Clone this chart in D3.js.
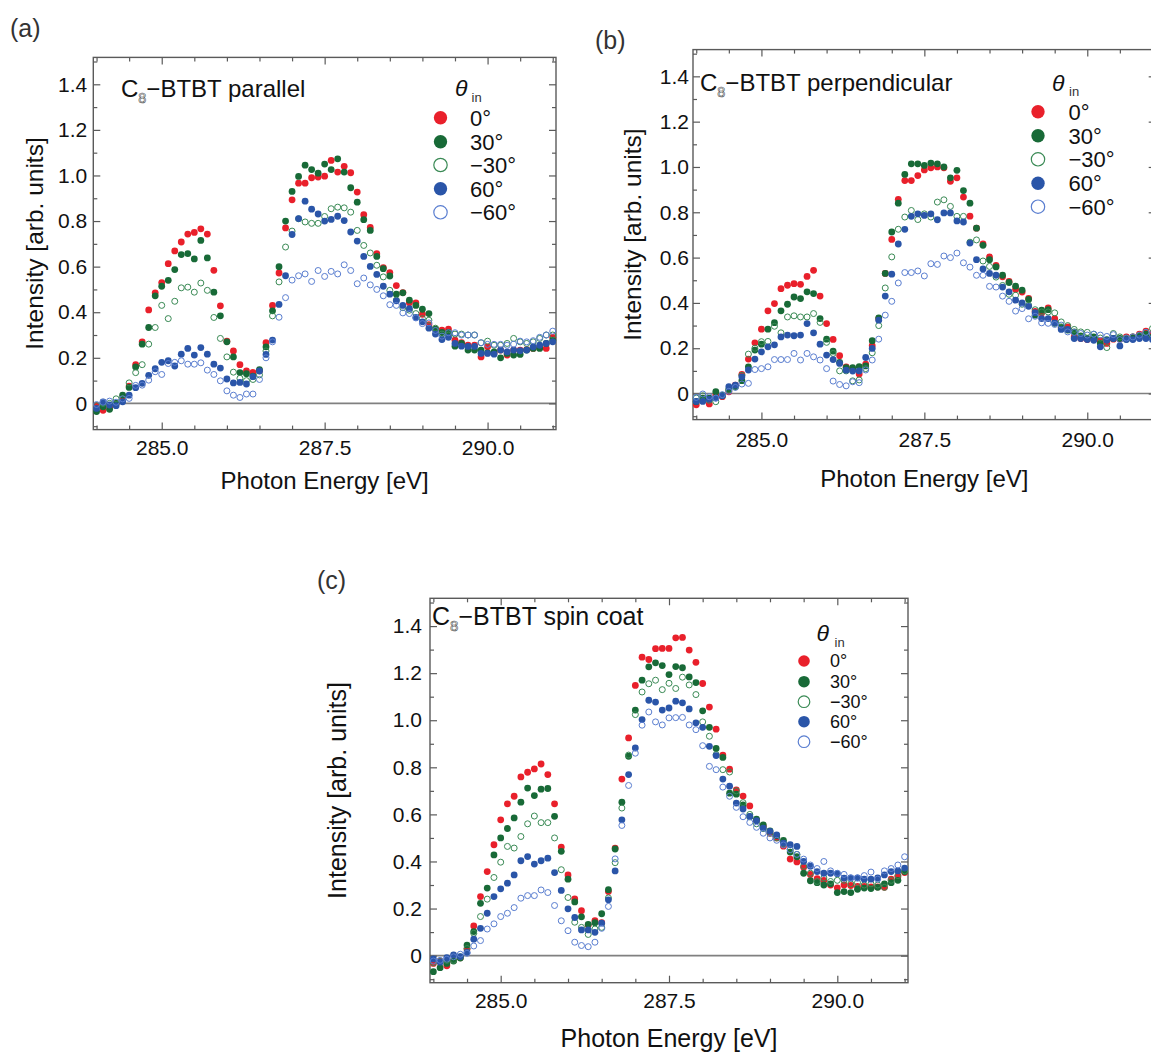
<!DOCTYPE html>
<html><head><meta charset="utf-8">
<script src="https://cdn.jsdelivr.net/npm/d3@7"></script>
<style>
body{margin:0;background:#fff}
svg{display:block}
text{font-family:"Liberation Sans",Arial,sans-serif;fill:#111}
</style>
</head><body>
<svg id="chart" width="1151" height="1055"></svg>
<script>
// ---------------- DATA ----------------
const energy = [284.0,284.1,284.2,284.3,284.4,284.5,284.6,284.7,284.8,284.9,
 285.0,285.1,285.2,285.3,285.4,285.5,285.6,285.7,285.8,285.9,
 286.0,286.1,286.2,286.3,286.4,286.5,286.6,286.7,286.8,286.9,
 287.0,287.1,287.2,287.3,287.4,287.5,287.6,287.7,287.8,287.9,
 288.0,288.1,288.2,288.3,288.4,288.5,288.6,288.7,288.8,288.9,
 289.0,289.1,289.2,289.3,289.4,289.5,289.6,289.7,289.8,289.9,
 290.0,290.1,290.2,290.3,290.4,290.5,290.6,290.7,290.8,290.9,
 291.0];

const angleLabels = ["0°","30°","−30°","60°","−60°"];
const xTickValues = [285.0, 287.5, 290.0];
const xTickLabels = ["285.0","287.5","290.0"];
const xMinorValues = [284.0,284.5,285.5,286.0,286.5,287.0,288.0,288.5,289.0,289.5,290.5,291.0];
const yTickValues = [0,0.2,0.4,0.6,0.8,1.0,1.2,1.4];
const yTickLabels = ["0","0.2","0.4","0.6","0.8","1.0","1.2","1.4"];
const yMinorValues = [-0.1,0.1,0.3,0.5,0.7,0.9,1.1,1.3,1.5];
const panelTitles = ["parallel","perpendicular","spin coat"];
const panelLetters = ["(a)","(b)","(c)"];

// (a) parallel
const parallel_0 = [-0.01,-0.03,-0.015,0.0,0.02,0.076,0.17,0.27,0.41,0.485,
 0.53,0.613,0.669,0.708,0.743,0.75,0.766,0.743,0.584,0.428,
 0.273,0.23,0.17,0.142,0.136,0.143,0.266,0.43,0.572,0.77,
 0.893,0.966,0.966,0.99,0.993,0.997,1.066,1.015,1.04,1.012,
 0.927,0.828,0.772,0.657,0.596,0.574,0.517,0.486,0.442,0.441,
 0.391,0.346,0.326,0.321,0.326,0.277,0.267,0.255,0.255,0.204,
 0.248,0.222,0.234,0.212,0.234,0.234,0.236,0.241,0.248,0.241,
 0.29];
const parallel_30 = [-0.036,-0.015,-0.026,0.0,0.036,0.07,0.16,0.26,0.333,0.472,
 0.514,0.54,0.587,0.653,0.657,0.634,0.715,0.638,0.488,0.384,
 0.27,0.204,0.135,0.13,0.12,0.148,0.248,0.406,0.6,0.8,
 0.93,0.996,1.045,1.026,1.01,1.05,1.026,1.073,1.015,0.946,
 0.883,0.806,0.759,0.645,0.591,0.559,0.479,0.485,0.453,0.43,
 0.413,0.394,0.326,0.311,0.311,0.251,0.263,0.234,0.234,0.234,
 0.222,0.226,0.2,0.219,0.212,0.215,0.234,0.241,0.241,0.263,
 0.277];
const parallel_m30 = [-0.01,0.0,0.0,0.02,0.02,0.09,0.135,0.17,0.26,0.333,
 0.43,0.372,0.448,0.507,0.51,0.488,0.528,0.496,0.377,0.285,
 0.204,0.137,0.11,0.1,0.105,0.125,0.23,0.384,0.533,0.686,
 0.756,0.81,0.796,0.79,0.79,0.82,0.854,0.861,0.858,0.839,
 0.759,0.693,0.66,0.606,0.555,0.496,0.453,0.42,0.409,0.394,
 0.372,0.365,0.33,0.304,0.3,0.304,0.304,0.3,0.3,0.266,
 0.273,0.255,0.255,0.263,0.285,0.27,0.263,0.27,0.285,0.3,
 0.3];
const parallel_60 = [-0.022,0.007,-0.007,-0.01,0.007,0.036,0.069,0.088,0.123,0.152,
 0.18,0.187,0.164,0.216,0.241,0.212,0.245,0.216,0.172,0.155,
 0.107,0.09,0.092,0.085,0.117,0.142,0.215,0.278,0.434,0.56,
 0.741,0.811,0.887,0.852,0.831,0.8,0.807,0.821,0.802,0.752,
 0.712,0.645,0.601,0.566,0.514,0.479,0.45,0.43,0.416,0.377,
 0.358,0.33,0.304,0.28,0.29,0.263,0.251,0.25,0.25,0.219,
 0.219,0.216,0.234,0.226,0.234,0.231,0.234,0.248,0.255,0.263,
 0.27];
const parallel_m60 = [-0.005,0.005,0.01,0.005,0.02,0.022,0.079,0.08,0.102,0.139,
 0.127,0.175,0.18,0.187,0.172,0.172,0.178,0.146,0.127,0.099,
 0.055,0.036,0.026,0.041,0.041,0.105,0.2,0.27,0.378,0.464,
 0.541,0.56,0.568,0.535,0.583,0.557,0.579,0.568,0.608,0.583,
 0.525,0.55,0.52,0.5,0.472,0.433,0.43,0.397,0.394,0.375,
 0.35,0.353,0.32,0.295,0.31,0.31,0.3,0.3,0.3,0.266,
 0.259,0.259,0.259,0.255,0.26,0.273,0.27,0.275,0.29,0.3,
 0.317];

// (b) perpendicular
const perp_0 = [-0.05,-0.03,-0.046,-0.007,-0.014,0.008,0.037,0.085,0.152,0.224,
 0.284,0.365,0.397,0.463,0.478,0.485,0.482,0.517,0.544,0.43,
 0.309,0.239,0.167,0.118,0.106,0.086,0.13,0.211,0.33,0.53,
 0.68,0.857,0.94,0.94,0.962,0.987,0.996,1.0,0.996,0.937,
 0.952,0.867,0.783,0.73,0.66,0.603,0.566,0.515,0.495,0.46,
 0.448,0.42,0.363,0.356,0.378,0.33,0.29,0.294,0.25,0.243,
 0.238,0.245,0.233,0.221,0.24,0.24,0.25,0.25,0.262,0.275,
 0.265];
const perp_30 = [-0.036,-0.02,-0.02,0.008,-0.007,0.018,0.03,0.057,0.118,0.192,
 0.218,0.284,0.313,0.365,0.394,0.426,0.419,0.449,0.441,0.331,
 0.24,0.187,0.138,0.114,0.114,0.119,0.122,0.233,0.334,0.53,
 0.713,0.84,0.967,1.014,1.014,1.007,1.017,1.014,1.0,0.952,
 0.985,0.896,0.84,0.73,0.654,0.591,0.559,0.522,0.49,0.474,
 0.456,0.415,0.346,0.368,0.37,0.31,0.294,0.28,0.272,0.254,
 0.243,0.25,0.221,0.238,0.243,0.243,0.24,0.245,0.254,0.262,
 0.25];
const perp_m30 = [-0.02,-0.01,-0.03,-0.036,-0.01,0.015,0.03,0.08,0.174,0.2,
 0.229,0.23,0.297,0.268,0.338,0.343,0.338,0.338,0.353,0.314,
 0.226,0.177,0.1,0.1,0.056,0.06,0.11,0.18,0.3,0.466,
 0.603,0.725,0.779,0.808,0.768,0.793,0.779,0.845,0.855,0.826,
 0.782,0.782,0.668,0.678,0.585,0.561,0.514,0.477,0.438,0.434,
 0.394,0.39,0.37,0.36,0.36,0.356,0.316,0.3,0.283,0.272,
 0.27,0.262,0.245,0.203,0.265,0.25,0.245,0.25,0.255,0.27,
 0.287];
const perp_60 = [-0.035,-0.035,-0.025,-0.02,-0.01,0.03,0.037,0.074,0.104,0.152,
 0.184,0.206,0.215,0.25,0.258,0.255,0.258,0.309,0.268,0.218,
 0.17,0.15,0.133,0.103,0.099,0.1,0.159,0.199,0.324,0.43,
 0.527,0.66,0.725,0.782,0.793,0.786,0.793,0.767,0.797,0.797,
 0.762,0.757,0.664,0.591,0.55,0.53,0.522,0.47,0.449,0.412,
 0.4,0.385,0.357,0.331,0.331,0.312,0.283,0.283,0.243,0.243,
 0.238,0.235,0.206,0.235,0.243,0.21,0.238,0.238,0.243,0.243,
 0.238];
const perp_m60 = [-0.017,-0.002,-0.014,-0.02,-0.005,0.01,0.027,0.042,0.045,0.106,
 0.11,0.118,0.15,0.15,0.15,0.177,0.148,0.177,0.162,0.148,
 0.11,0.055,0.04,0.034,0.052,0.048,0.104,0.148,0.24,0.346,
 0.407,0.488,0.534,0.534,0.541,0.519,0.573,0.57,0.607,0.6,
 0.62,0.577,0.558,0.522,0.522,0.473,0.47,0.43,0.407,0.364,
 0.375,0.33,0.341,0.312,0.31,0.305,0.302,0.272,0.27,0.265,
 0.258,0.262,0.258,0.252,0.26,0.238,0.245,0.25,0.258,0.27,
 0.262];

// (c) spin coat
const spin_0 = [-0.033,-0.023,-0.043,-0.021,-0.009,0.028,0.126,0.251,0.357,0.471,
 0.577,0.645,0.677,0.759,0.779,0.793,0.814,0.769,0.645,0.461,
 0.343,0.241,0.191,0.13,0.149,0.14,0.272,0.457,0.75,0.925,
 1.148,1.268,1.258,1.304,1.305,1.305,1.35,1.352,1.298,1.246,
 1.156,1.056,0.962,0.852,0.792,0.704,0.678,0.636,0.575,0.55,
 0.52,0.5,0.465,0.41,0.398,0.375,0.345,0.327,0.32,0.3,
 0.288,0.3,0.298,0.294,0.294,0.292,0.292,0.29,0.325,0.335,
 0.353];
const spin_30 = [-0.068,-0.051,-0.033,-0.023,-0.01,0.045,0.102,0.222,0.287,0.428,
 0.5,0.54,0.585,0.652,0.712,0.68,0.707,0.71,0.592,0.443,
 0.325,0.228,0.165,0.133,0.14,0.178,0.28,0.453,0.652,0.847,
 1.043,1.17,1.227,1.244,1.232,1.194,1.228,1.223,1.184,1.16,
 1.04,0.97,0.88,0.842,0.69,0.686,0.64,0.59,0.58,0.555,
 0.53,0.51,0.49,0.44,0.42,0.35,0.318,0.31,0.3,0.305,
 0.268,0.272,0.268,0.282,0.287,0.285,0.29,0.305,0.31,0.32,
 0.357];
const spin_m30 = [-0.03,-0.025,-0.02,-0.02,-0.005,0.03,0.095,0.166,0.24,0.332,
 0.397,0.464,0.457,0.506,0.56,0.593,0.565,0.565,0.5,0.365,
 0.247,0.142,0.12,0.09,0.113,0.12,0.245,0.395,0.627,0.852,
 1.024,1.12,1.155,1.17,1.13,1.157,1.135,1.183,1.15,1.109,
 0.993,0.932,0.854,0.79,0.78,0.7,0.65,0.6,0.56,0.54,
 0.52,0.5,0.475,0.45,0.43,0.38,0.35,0.315,0.33,0.315,
 0.32,0.32,0.305,0.31,0.3,0.305,0.3,0.29,0.32,0.34,
 0.36];
const spin_60 = [-0.014,-0.028,-0.009,0.003,-0.004,0.014,0.07,0.116,0.18,0.251,
 0.284,0.308,0.343,0.403,0.421,0.389,0.403,0.414,0.353,0.277,
 0.199,0.162,0.109,0.109,0.099,0.138,0.237,0.36,0.577,0.769,
 0.882,1.003,1.085,1.077,1.043,1.052,1.081,1.074,1.048,0.989,
 0.97,0.889,0.85,0.75,0.72,0.648,0.623,0.591,0.573,0.542,
 0.528,0.513,0.478,0.471,0.464,0.4,0.38,0.357,0.35,0.35,
 0.348,0.329,0.33,0.33,0.325,0.325,0.33,0.343,0.357,0.36,
 0.372];
const spin_m60 = [-0.023,-0.02,-0.015,-0.005,0.006,0.01,0.041,0.064,0.113,0.135,
 0.166,0.18,0.204,0.244,0.255,0.255,0.279,0.268,0.213,0.148,
 0.106,0.057,0.043,0.038,0.057,0.116,0.209,0.411,0.553,0.723,
 0.86,0.979,1.035,0.993,0.98,1.01,1.011,1.012,0.98,0.96,
 0.892,0.804,0.79,0.716,0.677,0.63,0.59,0.566,0.545,0.52,
 0.5,0.49,0.47,0.45,0.43,0.41,0.385,0.37,0.4,0.36,
 0.35,0.345,0.33,0.33,0.34,0.355,0.325,0.36,0.37,0.385,
 0.42];

// ---------------- STYLE / LAYOUT ----------------
const seriesStyle = [
  {color:"#e9202b", filled:true},
  {color:"#186a37", filled:true},
  {color:"#3a8a55", filled:false},
  {color:"#2a55a8", filled:true},
  {color:"#5a7ed0", filled:false}
];
const panelData = [
  [parallel_0, parallel_30, parallel_m30, parallel_60, parallel_m60],
  [perp_0, perp_30, perp_m30, perp_60, perp_m60],
  [spin_0, spin_30, spin_m30, spin_60, spin_m60]
];
const layout = [
  {left:93.3, right:556, top:57.4, bottom:429.6, letterX:10, letterY:37,
   titleX:121, titleY:96.7, titleSize:24, yLabGap:6, xLabPad:10.6, xTitleY:489, xTitleSize:24,
   yTitleX:34, yTitleSize:24.5,
   legX:440.5, legRows:[117.7,141.7,165,188.7,212.3], legR:6.7, legLabX:470, legSize:22,
   thetaX:455, thetaY:96, thetaSize:23, inX:471.5, inY:101.5, inSize:13},
  {left:693, right:1155.7, top:49.6, bottom:419.6, letterX:595, letterY:49,
   titleX:700, titleY:91, titleSize:24, yLabGap:4, xLabPad:12.8, xTitleY:486.7, xTitleSize:24,
   yTitleX:632, yTitleSize:24.5,
   legX:1038, legRows:[111.7,135.7,159.3,183.3,206.7], legR:6.7, legLabX:1068.5, legSize:22,
   thetaX:1052, thetaY:91, thetaSize:23, inX:1069, inY:96, inSize:13},
  {left:430, right:908, top:598.3, bottom:982.7, letterX:317, letterY:589,
   titleX:432, titleY:625, titleSize:25, yLabGap:8, xLabPad:10.7, xTitleY:1047, xTitleSize:25,
   yTitleX:336.5, yTitleSize:25,
   legX:804, legRows:[661,681.7,701.7,721.7,741.7], legR:5.8, legLabX:830, legSize:18,
   thetaX:816.5, thetaY:641, thetaSize:23, inX:834.5, inY:647, inSize:13}
];

const svg = d3.select("#chart");
const frameColor = "#5a5a5a";
const fontStack = '"Liberation Sans",Arial,sans-serif';

layout.forEach((L, p) => {
  const x = d3.scaleLinear().domain([283.95, 291.05]).range([L.left, L.right]);
  const y = d3.scaleLinear().domain([-0.115, 1.518]).range([L.bottom, L.top]);
  const g = svg.append("g");

  // panel letter
  svg.append("text").attr("x", L.letterX).attr("y", L.letterY)
    .attr("font-size", 25).style("fill", "#333").text(panelLetters[p]);

  // zero line
  g.append("line").attr("x1", L.left).attr("x2", L.right)
    .attr("y1", y(0)).attr("y2", y(0))
    .attr("stroke", "#808080").attr("stroke-width", 1.6);

  // axes (inward ticks)
  const styleAxis = sel => {
    sel.select(".domain").remove();
    sel.selectAll(".tick line").attr("stroke", frameColor).attr("stroke-width", 1.2);
  };
  const bottomMajor = d3.axisBottom(x).tickValues(xTickValues).tickSize(-7).tickPadding(L.xLabPad)
    .tickFormat((d, i) => xTickLabels[i]);
  g.append("g").attr("transform", `translate(0,${L.bottom})`).call(bottomMajor).call(styleAxis)
    .selectAll("text").attr("font-size", 21).style("font-family", fontStack).style("fill", "#111");
  g.append("g").attr("transform", `translate(0,${L.bottom})`)
    .call(d3.axisBottom(x).tickValues(xMinorValues).tickSize(-4).tickFormat("")).call(styleAxis);
  g.append("g").attr("transform", `translate(0,${L.top})`)
    .call(d3.axisTop(x).tickValues(xTickValues).tickSize(-7).tickFormat("")).call(styleAxis);
  g.append("g").attr("transform", `translate(0,${L.top})`)
    .call(d3.axisTop(x).tickValues(xMinorValues).tickSize(-4).tickFormat("")).call(styleAxis);

  const leftMajor = d3.axisLeft(y).tickValues(yTickValues).tickSize(-7).tickPadding(L.yLabGap)
    .tickFormat((d, i) => yTickLabels[i]);
  g.append("g").attr("transform", `translate(${L.left},0)`).call(leftMajor).call(styleAxis)
    .selectAll("text").attr("font-size", 21).style("font-family", fontStack).style("fill", "#111");
  g.append("g").attr("transform", `translate(${L.left},0)`)
    .call(d3.axisLeft(y).tickValues(yMinorValues).tickSize(-4).tickFormat("")).call(styleAxis);
  g.append("g").attr("transform", `translate(${L.right},0)`)
    .call(d3.axisRight(y).tickValues(yTickValues).tickSize(-7).tickFormat("")).call(styleAxis);
  g.append("g").attr("transform", `translate(${L.right},0)`)
    .call(d3.axisRight(y).tickValues(yMinorValues).tickSize(-4).tickFormat("")).call(styleAxis);

  // frame
  g.append("rect").attr("x", L.left).attr("y", L.top)
    .attr("width", L.right - L.left).attr("height", L.bottom - L.top)
    .attr("fill", "none").attr("stroke", frameColor).attr("stroke-width", 1.4);

  // data points
  panelData[p].forEach((vals, s) => {
    const st = seriesStyle[s];
    g.append("g").selectAll("circle").data(vals).join("circle")
      .attr("cx", (d, i) => x(energy[i]))
      .attr("cy", d => y(d))
      .attr("r", st.filled ? 3.4 : 3.0)
      .attr("fill", st.filled ? st.color : "none")
      .attr("stroke", st.filled ? "none" : st.color)
      .attr("stroke-width", 1);
  });

  // inner title  C8-BTBT ...
  const t = g.append("text").attr("x", L.titleX).attr("y", L.titleY).attr("font-size", L.titleSize);
  t.append("tspan").text("C");
  t.append("tspan").attr("dy", 6).attr("font-size", L.titleSize * 0.6)
    .style("fill", "#fff").attr("stroke", "#444").attr("stroke-width", 0.55).text("8");
  t.append("tspan").attr("dy", -6).text("−BTBT " + panelTitles[p]);

  // legend
  g.append("text").attr("x", L.thetaX).attr("y", L.thetaY)
    .attr("font-size", L.thetaSize).attr("font-style", "italic").text("θ");
  g.append("text").attr("x", L.inX).attr("y", L.inY)
    .attr("font-size", L.inSize).style("fill", "#333").text("in");
  angleLabels.forEach((lab, s) => {
    const st = seriesStyle[s];
    const ry = L.legRows[s];
    g.append("circle").attr("cx", L.legX).attr("cy", ry).attr("r", L.legR)
      .attr("fill", st.filled ? st.color : "none")
      .attr("stroke", st.filled ? "none" : st.color).attr("stroke-width", 1.2);
    g.append("text").attr("x", L.legLabX).attr("y", ry + L.legSize * 0.36)
      .attr("font-size", L.legSize).text(lab);
  });

  // axis titles
  g.append("text").attr("x", (L.left + L.right) / 2).attr("y", L.xTitleY)
    .attr("text-anchor", "middle").attr("font-size", L.xTitleSize).text("Photon Energy [eV]");
  g.append("text")
    .attr("transform", `translate(${L.yTitleX},${(L.top + L.bottom) / 2}) rotate(-90)`)
    .attr("text-anchor", "middle").attr("dy", "0.36em")
    .attr("font-size", L.yTitleSize).text("Intensity [arb. units]");
});
</script>
</body></html>
